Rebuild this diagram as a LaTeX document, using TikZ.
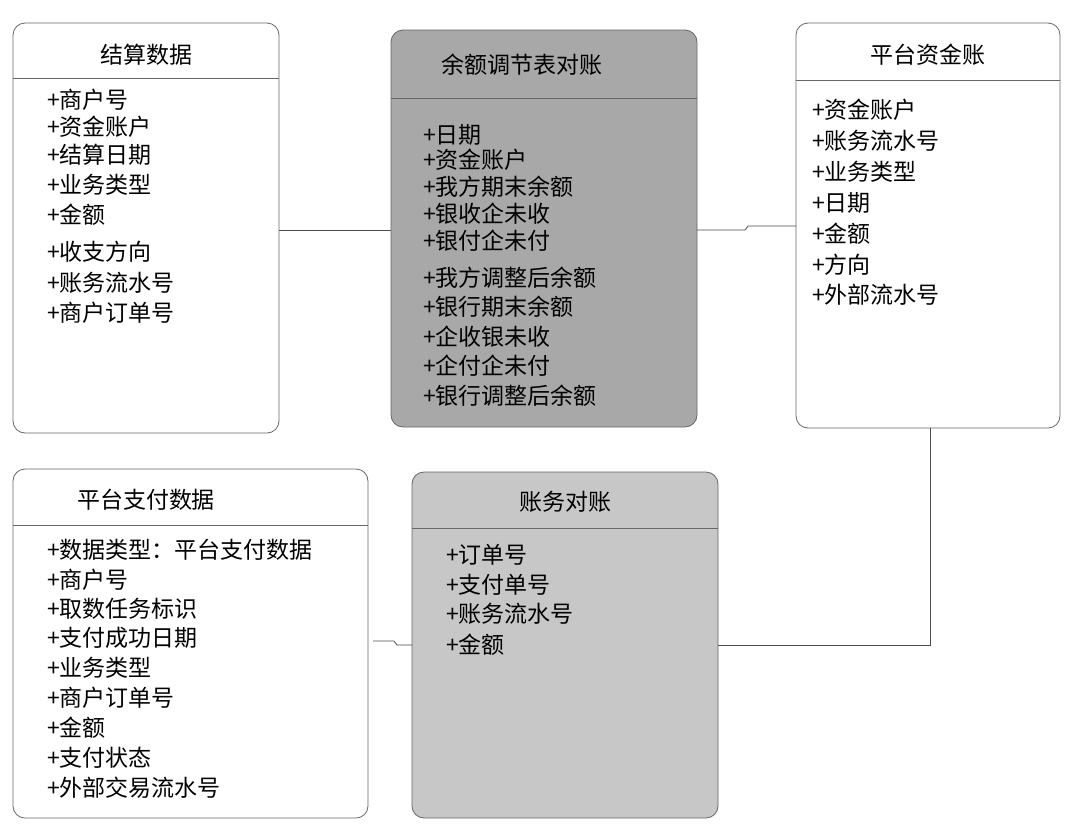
\documentclass[tikz,border=0pt]{standalone}
\usepackage{fontspec}
\setmainfont{Noto Sans CJK SC}
\usetikzlibrary{positioning}
\tikzset{
  tbl/.style={draw=black!60, line width=0.8pt, rounded corners=12pt},
  sep/.style={draw=black!60, line width=0.8pt},
  ttl/.style={font=\fontsize{23}{26}\selectfont, inner sep=0pt},
  itm/.style={font=\fontsize{23}{26}\selectfont, inner sep=0pt, anchor=west},
  wire/.style={draw=black!70, line width=0.8pt}
}
% box: name, x1, y1, x2, y2, header y, fill
\newcommand{\tb}[7]{\filldraw[tbl, fill=#7] (#2,-#3) rectangle (#4,-#5);
  \draw[sep] (#2,-#6) -- (#4,-#6);
  \coordinate (#1-w) at (#2,-#3); }
\begin{document}
\begin{tikzpicture}[x=1pt, y=1pt]
  \useasboundingbox (0,0) rectangle (1080,-831);
  \tb{js}{13}{23}{279}{433}{78}{white}
  \tb{ye}{391}{30}{697}{427}{98}{black!34}
  \tb{zj}{796}{23}{1060}{428}{80}{white}
  \tb{zf}{13}{469}{368}{818}{525}{white}
  \tb{zw}{412}{472}{718}{818}{528}{black!22}
  % titles
  \node[ttl] (js-t) at (146,-55) {结算数据};
  \node[ttl] (ye-t) at (522,-65) {余额调节表对账};
  \node[ttl] (zj-t) at (928,-55) {平台资金账};
  \node[ttl] (zf-t) at (146,-500) {平台支付数据};
  \node[ttl] (zw-t) at (565,-502) {账务对账};
  % entries
  \foreach \y/\t [count=\i] in {100/商户号,127/资金账户,155/结算日期,185/业务类型,215/金额,252/收支方向,283/账务流水号,313/商户订单号}
    \node[itm] (js-\i) at (47,-\y) {+\t};
  \foreach \y/\t [count=\i] in {135/日期,160/资金账户,187/我方期末余额,214/银收企未收,241/银付企未付,278/我方调整后余额,307/银行期末余额,337/企收银未收,366/企付企未付,396/银行调整后余额}
    \node[itm] (ye-\i) at (423,-\y) {+\t};
  \foreach \y/\t [count=\i] in {110/资金账户,141/账务流水号,172/业务类型,203/日期,234/金额,265/方向,295/外部流水号}
    \node[itm] (zj-\i) at (812,-\y) {+\t};
  \foreach \y/\t [count=\i] in {550/数据类型：平台支付数据,580/商户号,609/取数任务标识,638/支付成功日期,668/业务类型,698/商户订单号,728/金额,758/支付状态,788/外部交易流水号}
    \node[itm] (zf-\i) at (47,-\y) {+\t};
  \foreach \y/\t [count=\i] in {555/订单号,585/支付单号,614/账务流水号,645/金额}
    \node[itm] (zw-\i) at (446,-\y) {+\t};
  % links
  \coordinate (a1) at (279,-230); \coordinate (a2) at (391,-230);
  \draw[wire] (a1) -- (a2);
  \coordinate (b1) at (697,-230); \coordinate (b2) at (796,-226);
  \draw[wire] (b1) -- (745,-230) -- (748,-226) -- (b2);
  \coordinate (c1) at (930,-428); \coordinate (c2) at (718,-645);
  \draw[wire] (c1) |- (c2);
  \coordinate (d1) at (373,-641); \coordinate (d2) at (412,-645);
  \draw[wire] (d1) -- (394,-641) -- (397,-645) -- (d2);
\end{tikzpicture}
\end{document}
